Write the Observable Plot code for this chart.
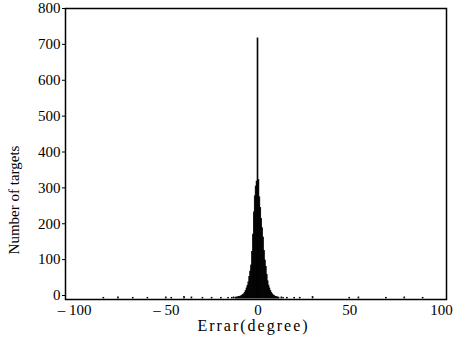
<!DOCTYPE html>
<html>
<head>
<meta charset="utf-8">
<script src="https://cdn.jsdelivr.net/npm/d3@7"></script>
<script src="https://cdn.jsdelivr.net/npm/@observablehq/plot@0.6"></script>
<style>
  html, body { margin: 0; padding: 0; background: #fff; }
  #chart svg { display: block; }
</style>
</head>
<body>
<div id="chart"></div>
<script>
// Histogram of angular error (bin centres, degrees) and counts
const binWidth = 0.5;
const binCenters = [
  -84, -76, -68, -60, -50, -47, -40, -36, -30, -25, -20, -16, -14, -13,
  -12, -11.5, -11, -10.5, -10, -9.5, -9, -8.5, -8, -7.5, -7, -6.5,
  -6, -5.5, -5, -4.5, -4, -3.5, -3, -2.5, -2, -1.5, -1, -0.5,
  0,
  0.5, 1, 1.5, 2, 2.5, 3, 3.5, 4, 4.5, 5, 5.5, 6, 6.5, 7, 7.5,
  8, 8.5, 9, 9.5, 10, 10.5, 11, 11.5,
  13, 14, 16, 20, 23, 30, 50, 55, 70, 80, 90
];
const counts = [
  2, 3, 2, 2, 3, 2, 4, 3, 2, 2, 2, 2, 2, 3,
  2, 3, 2, 4, 4, 5, 6, 8, 10, 12, 16, 21,
  28, 35, 45, 60, 75, 92, 130, 178, 240, 285, 312, 326,
  725,
  330, 282, 252, 222, 196, 170, 132, 106, 88, 66, 48, 36, 28, 21, 16,
  12, 9, 7, 5, 4, 3, 3, 2,
  3, 2, 2, 2, 2, 4, 2, 3, 2, 3, 2
];
const yTicks = [0, 100, 200, 300, 400, 500, 600, 700, 800];
const xTicks = [-100, -50, 0, 50, 100];
const xTickLabels = ["\u2013 100", "\u2013 50", "0", "50", "100"];
const xLabel = "Errar(degree)";
const yLabel = "Number of targets";

const bins = binCenters.map((c, i) => ({
  x1: c - binWidth / 2,
  x2: c + binWidth / 2,
  count: counts[i]
}));

const font = "'Liberation Serif', 'DejaVu Serif', serif";
const W = 456, H = 347;
const mL = 65, mR = 10, mT = 8, mB = 48;

const chart = Plot.plot({
  width: W,
  height: H,
  marginLeft: mL,
  marginRight: mR,
  marginTop: mT,
  marginBottom: mB,
  style: { fontFamily: font, fontSize: "15px", color: "#000", background: "#fff" },
  x: {
    domain: [-100, 100],
    insetLeft: 9,
    insetRight: 5
  },
  y: {
    domain: [0, 800],
    insetTop: 3,
    insetBottom: 1
  },
  marks: [
    Plot.rectY(bins, { x1: "x1", x2: "x2", y: "count", fill: "#000", stroke: "#000", strokeWidth: 0.7, inset: 0 }),
    Plot.frame({ stroke: "#000", strokeWidth: 1.5 }),
    Plot.axisY({
      ticks: yTicks,
      tickSize: 3,
      tickPadding: 2,
      dy: -3,
      label: null,
      fontSize: 15
    }),
    Plot.axisX({
      ticks: xTicks,
      tickFormat: (d) => xTickLabels[xTicks.indexOf(d)],
      tickSize: 0,
      tickPadding: 5,
      label: null,
      fontSize: 15
    })
  ]
});

document.getElementById("chart").appendChild(chart);

const svg = d3.select(chart);
// x axis title
svg.append("text")
  .attr("x", (mL + W - mR) / 2 - 2)
  .attr("y", H - 20)
  .attr("text-anchor", "middle")
  .attr("dominant-baseline", "middle")
  .style("font-family", font)
  .style("font-size", "16px")
  .style("letter-spacing", "2px")
  .attr("fill", "#000")
  .text(xLabel);
// y axis title
svg.append("text")
  .attr("transform", "translate(16,200) rotate(-90)")
  .attr("text-anchor", "middle")
  .attr("dominant-baseline", "middle")
  .style("font-family", font)
  .style("font-size", "15px")
  .attr("fill", "#000")
  .text(yLabel);
</script>
</body>
</html>
